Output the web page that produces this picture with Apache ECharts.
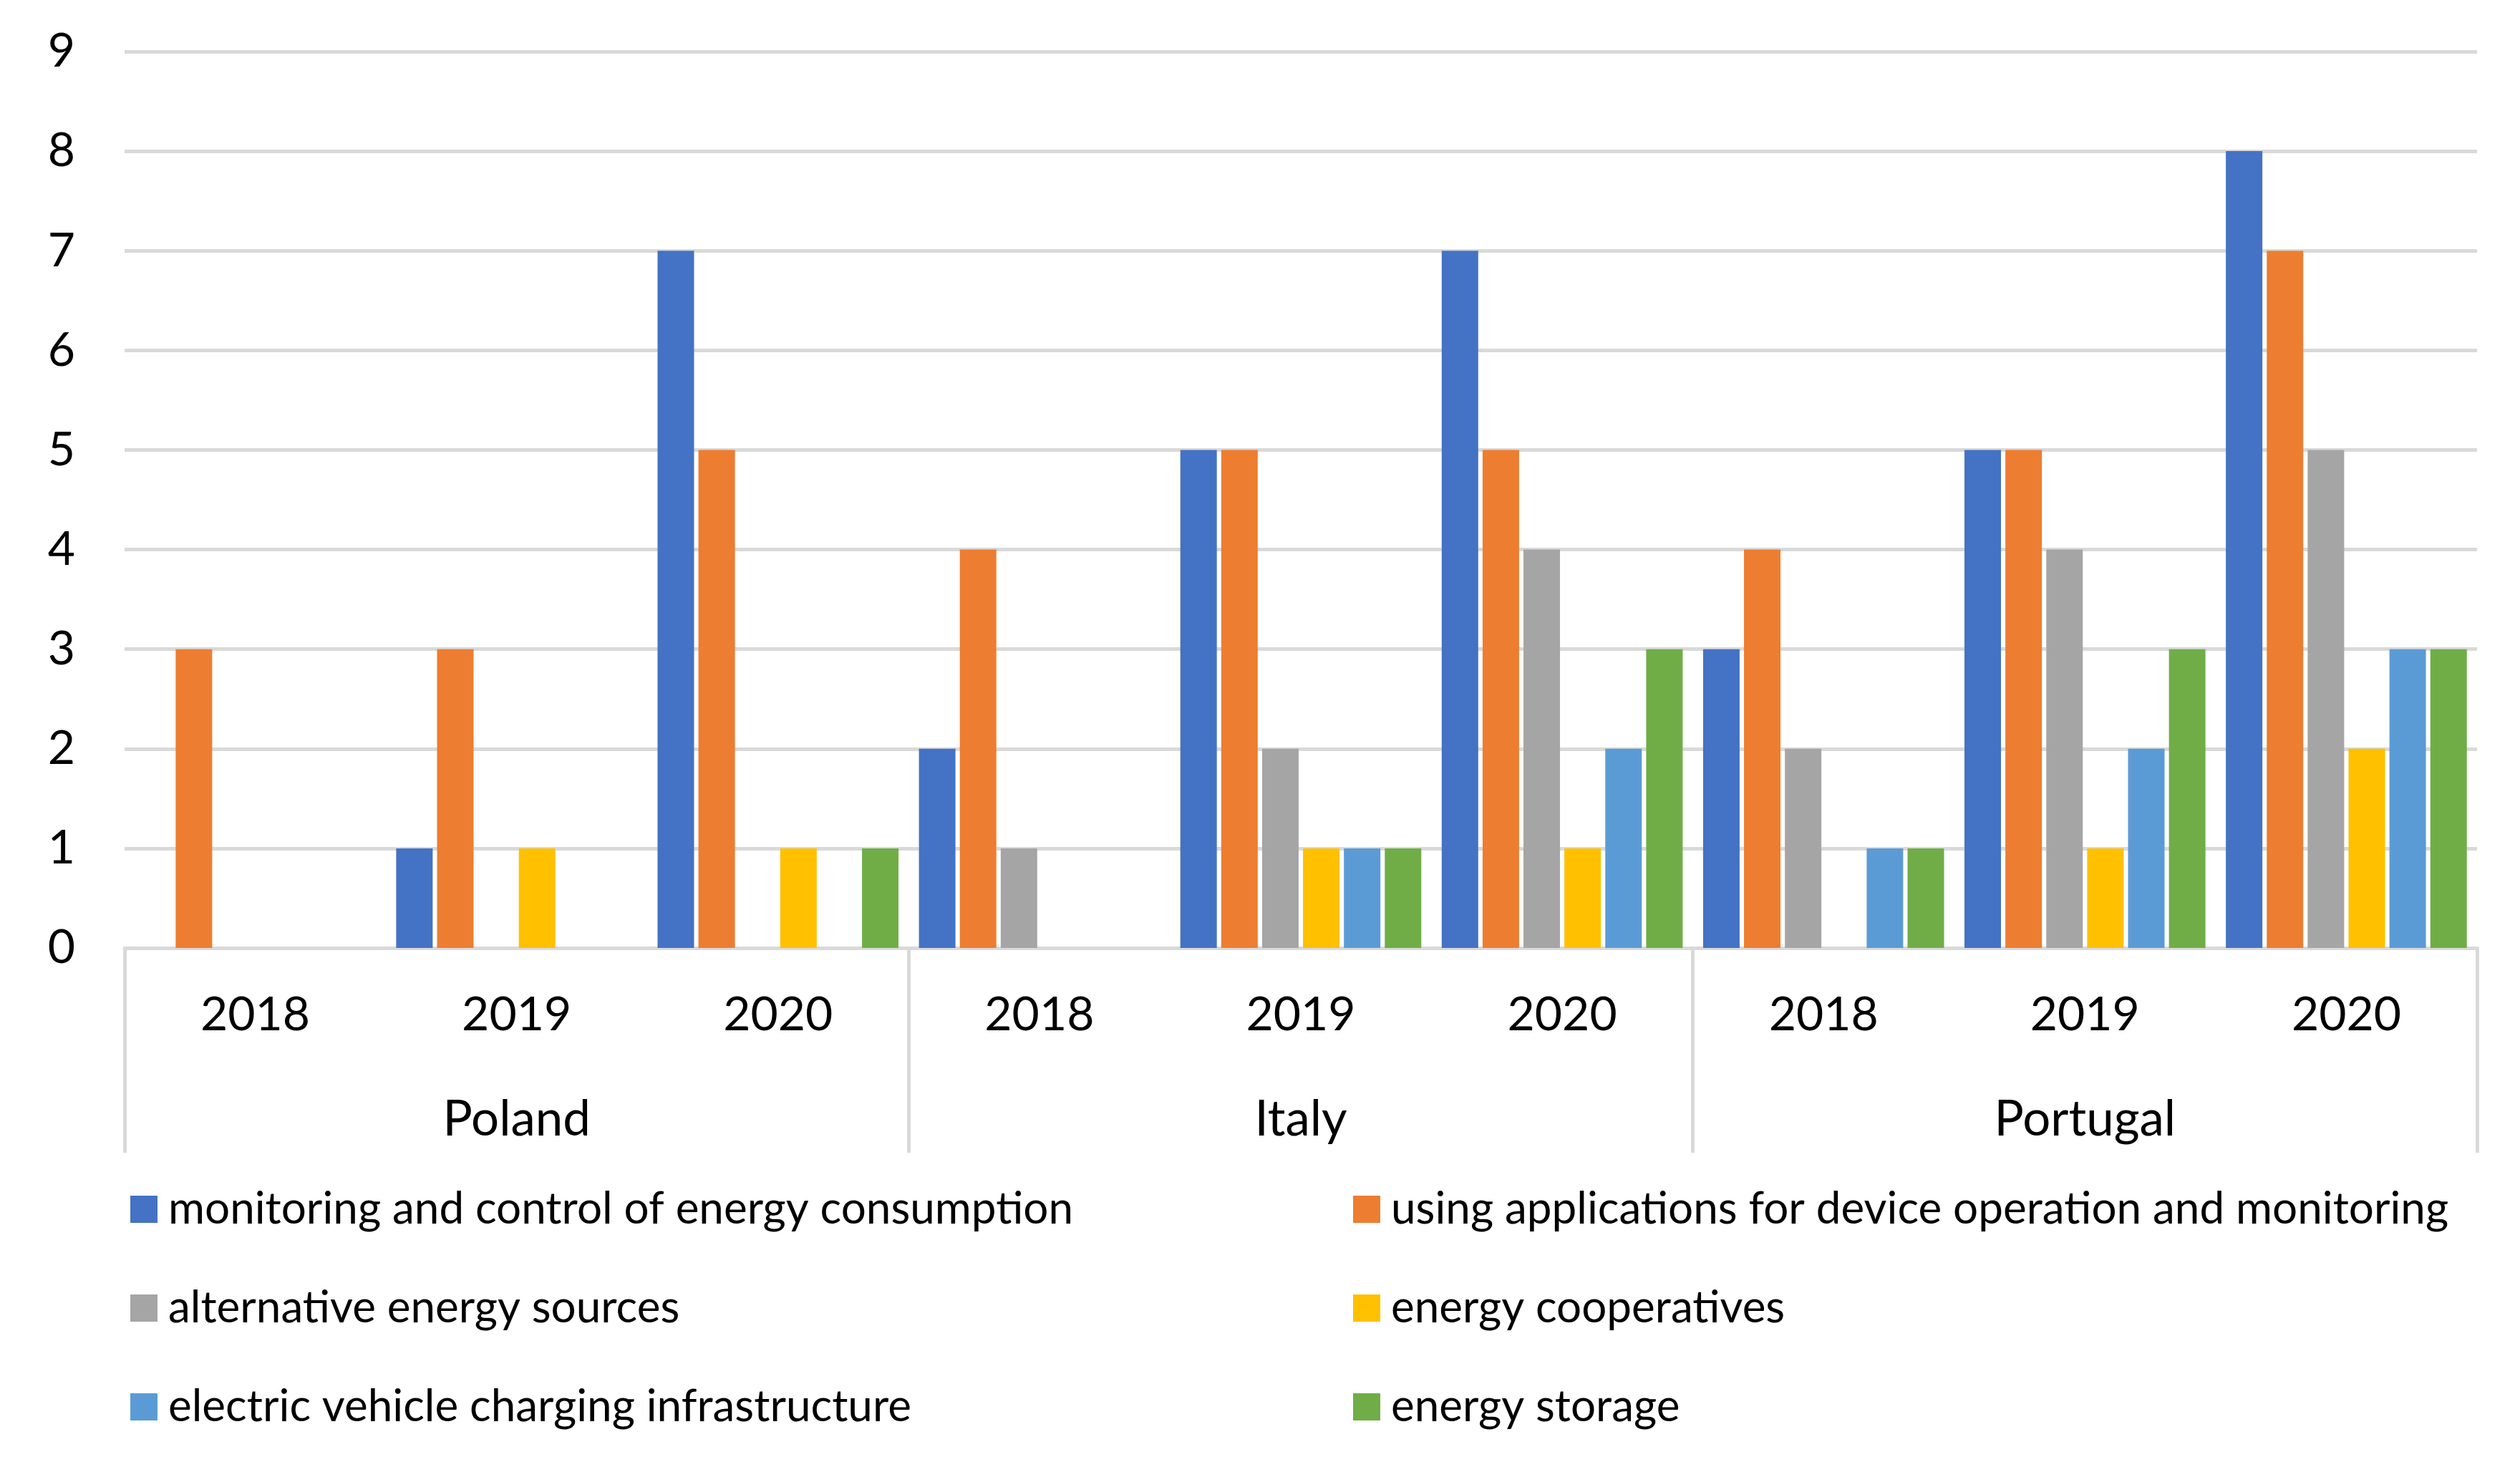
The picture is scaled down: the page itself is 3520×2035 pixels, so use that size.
<!DOCTYPE html>
<html>
<head>
<meta charset="utf-8">
<script src="https://cdn.jsdelivr.net/npm/echarts@6/dist/echarts.min.js"></script>
<style>
html,body{margin:0;padding:0;background:#fff;}
#chart{width:3520px;height:2035px;}
</style>
</head>
<body>
<div id="chart"></div>
<script>
const years = ['2018','2019','2020','2018','2019','2020','2018','2019','2020'];
const countries = ['Poland','Italy','Portugal'];
const yTicks = [0,1,2,3,4,5,6,7,8,9];
const seriesNames = [
  'monitoring and control of energy consumption',
  'using applications for device operation and monitoring',
  'alternative energy sources',
  'energy cooperatives',
  'electric vehicle charging infrastructure',
  'energy storage'
];
const monitoring   = [0,1,7, 2,5,7, 3,5,8];
const applications = [3,3,5, 4,5,5, 4,5,7];
const alternative  = [0,0,0, 1,2,4, 2,4,5];
const cooperatives = [0,1,1, 0,1,1, 0,1,2];
const evCharging   = [0,0,0, 0,1,2, 1,2,3];
const storage      = [0,0,1, 0,1,3, 1,3,3];
const seriesValues = [monitoring, applications, alternative, cooperatives, evCharging, storage];
const colors = ['#4472C4','#ED7D31','#A5A5A5','#FFC000','#5B9BD5','#70AD47'];

const FONT = 'Lato';
const gridColor = '#d9d9d9';

const legendPos = [
  {left:177, top:1653},
  {left:1885, top:1653},
  {left:177, top:1791},
  {left:1885, top:1791},
  {left:177, top:1929},
  {left:1885, top:1929}
];

const chart = echarts.init(document.getElementById('chart'));
chart.setOption({
  backgroundColor:'#fff',
  animation:false,
  textStyle:{fontFamily:FONT},
  grid:{left:174, right:60, top:72, bottom:711, containLabel:false},
  legend: seriesNames.map((n,i)=>({
    data:[n],
    left:legendPos[i].left, top:legendPos[i].top,
    orient:'horizontal',
    icon:'rect', itemWidth:38, itemHeight:38,
    selectedMode:false,
    textStyle:{fontFamily:FONT, fontSize:62, color:'#000', lineHeight:40, padding:[0,0,0,10]}
  })),
  xAxis:[
    {
      type:'category', data:years, position:'bottom',
      axisLine:{show:true, lineStyle:{color:gridColor, width:5}},
      axisTick:{show:false},
      axisLabel:{fontFamily:FONT, fontSize:66, color:'#000', margin:61, interval:0},
      splitLine:{show:false}
    },
    {
      type:'category', data:countries, position:'bottom',
      axisLine:{show:false},
      axisTick:{show:true, length:286, interval:0, lineStyle:{color:gridColor, width:5}},
      axisLabel:{fontFamily:FONT, fontSize:69, color:'#000', margin:205, interval:0},
      splitLine:{show:false}
    }
  ],
  yAxis:{
    type:'value', min:yTicks[0], max:yTicks[yTicks.length-1], interval:1,
    axisLine:{show:false}, axisTick:{show:false},
    axisLabel:{fontFamily:FONT, fontSize:66, color:'#000', margin:69},
    splitLine:{show:true, lineStyle:{color:gridColor, width:5}}
  },
  series: seriesNames.map((n,i)=>({
    name:n, type:'bar', xAxisIndex:0,
    data:seriesValues[i],
    barWidth:51, barGap:'12%',
    itemStyle:{color:colors[i]}
  }))
});
</script>
</body>
</html>
